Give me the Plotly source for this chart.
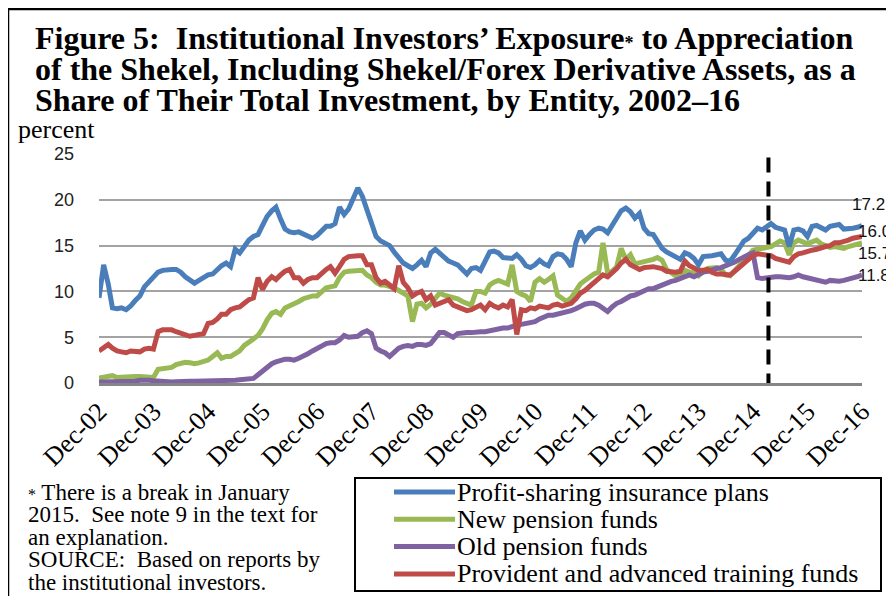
import plotly.graph_objects as go
import pandas as pd

# ---------------- data (monthly, Dec-2002 .. Dec-2016) ----------------
dates = pd.date_range("2002-12-01", periods=169, freq="MS")

series_names = [
    "Profit-sharing insurance plans",
    "New pension funds",
    "Old pension funds",
    "Provident and advanced training funds",
]

profit_sharing = [
    9.3, 12.9, 10.8, 8.2, 8.1, 8.2, 8.0, 8.4, 9.0, 9.5, 10.5, 11.0,
    11.5, 12.1, 12.3, 12.4, 12.4, 12.4, 12.1, 11.6, 11.2, 10.9, 11.2, 11.5,
    11.8, 11.9, 12.4, 12.8, 13.1, 12.7, 14.6, 14.2, 14.9, 15.6, 16.0, 16.2,
    17.2, 18.2, 18.8, 19.2, 17.9, 16.8, 16.5, 16.4, 16.5, 16.3, 16.0, 15.8,
    16.1, 16.6, 17.1, 17.1, 17.4, 19.2, 18.4, 19.0, 20.2, 21.3, 20.4, 18.9,
    17.8, 16.0, 15.5, 15.3, 15.0, 14.3, 13.6, 13.1, 12.8, 12.5, 12.9, 13.4,
    12.7, 14.2, 14.6, 14.2, 13.6, 13.3, 13.1, 12.9, 12.4, 11.9, 12.5, 12.6,
    12.3, 13.3, 14.3, 14.4, 14.2, 13.7, 13.6, 13.6, 14.0, 13.5, 12.8, 12.6,
    12.9, 13.4, 13.0, 12.8, 13.8, 14.1, 14.0, 13.5, 12.7, 15.3, 16.6, 15.6,
    16.2, 16.7, 16.9, 16.8, 16.4, 17.2, 18.0, 18.8, 19.1, 18.7, 18.0, 18.5,
    16.9, 16.3, 16.2, 15.5, 14.7, 14.3, 14.0, 13.8, 13.5, 14.2, 14.0, 13.6,
    12.9, 13.8, 13.8, 13.9, 14.0, 14.1, 13.4, 13.3, 14.0, 14.8, 15.5, 15.8,
    16.4, 16.9, 16.7, 17.0, 17.4, 17.0, 16.8, 16.7, 14.9, 16.7, 16.8, 16.6,
    16.0, 17.1, 17.2, 17.0, 16.7, 17.1, 17.2, 17.3, 16.8, 16.8, 16.9, 17.0,
    17.2,
]

new_pension = [
    0.55, 0.6, 0.7, 0.8, 0.6, 0.65, 0.7, 0.7, 0.7, 0.7, 0.7, 0.65,
    0.6, 1.5, 1.6, 1.6, 1.7, 2.0, 2.1, 2.25, 2.2, 2.1, 2.2, 2.35,
    2.5, 2.9, 3.3, 2.7, 2.9, 2.9, 3.2, 3.5, 4.1, 4.4, 4.8, 5.2,
    5.9, 6.9, 7.6, 7.8, 7.5, 8.2, 8.4, 8.7, 8.9, 9.2, 9.4, 9.5,
    9.5, 10.0, 10.4, 10.5, 10.6, 11.5, 12.1, 12.2, 12.2, 12.2, 12.3, 11.8,
    11.5, 11.0, 10.7, 10.7, 10.6, 10.4, 10.1, 9.8, 9.5, 6.7, 8.6, 8.7,
    8.2, 8.6, 9.3, 9.8, 9.6, 9.5, 9.4, 9.2, 8.9, 8.7, 8.5, 10.0,
    10.0, 9.8, 10.7, 11.0, 11.2, 11.0, 10.8, 12.9, 10.0, 9.7, 9.5, 8.9,
    11.0, 11.4, 11.0, 11.3, 11.7, 9.6, 9.3, 8.9, 9.3, 10.2, 10.8, 11.2,
    11.6, 11.9, 12.1, 15.3, 12.0, 12.2, 12.7, 14.7, 13.5, 14.0, 13.0, 13.1,
    13.2, 13.3, 13.5, 13.7, 13.4, 12.4, 12.0, 11.7, 11.6, 12.3, 12.1, 12.0,
    11.7, 12.2, 12.5, 12.5, 12.6, 12.4, 11.8, 11.7, 12.3, 12.9, 13.5, 14.0,
    14.5, 14.6, 14.7, 14.7, 14.9, 15.2, 15.5, 15.3, 14.0, 15.3, 15.6, 15.4,
    15.2, 15.4, 15.6, 15.2, 15.0, 14.8, 14.9, 14.8, 14.7, 14.9, 15.0, 15.1,
    15.3,
]

old_pension = [
    0.1, 0.1, 0.1, 0.1, 0.1, 0.1, 0.1, 0.15, 0.2, 0.3, 0.35, 0.3,
    0.25, 0.2, 0.15, 0.1, 0.1, 0.15, 0.2, 0.2, 0.2, 0.2, 0.2, 0.2,
    0.2, 0.2, 0.25, 0.25, 0.3, 0.3, 0.3, 0.35, 0.4, 0.45, 0.5, 0.9,
    1.3, 1.7, 2.1, 2.3, 2.5, 2.6, 2.6, 2.5, 2.7, 2.9, 3.2, 3.5,
    3.8, 4.0, 4.3, 4.4, 4.4, 4.7, 5.2, 5.0, 5.1, 5.1, 5.5, 5.7,
    5.4, 3.8, 3.5, 3.3, 2.9, 3.3, 3.8, 4.0, 4.1, 4.0, 4.2, 4.2,
    4.1, 4.3, 5.0, 5.5, 5.5, 5.2, 5.0, 5.4, 5.5, 5.5, 5.5, 5.6,
    5.6, 5.6, 5.7, 5.8, 6.0, 6.0, 6.0, 6.2, 6.3, 6.4, 6.5, 6.5,
    6.7, 7.0, 7.2, 7.4, 7.4, 7.5, 7.6, 7.8, 7.9, 8.1, 8.4, 8.6,
    8.7, 8.7, 8.5, 8.2, 7.8, 8.3, 8.7, 8.9, 9.2, 9.5, 9.6, 9.8,
    10.0, 10.3, 10.3, 10.5, 10.6, 10.9, 11.1, 11.2, 11.4, 11.7, 11.8, 11.6,
    11.9, 12.1, 12.2, 12.4, 12.5, 12.6, 12.8, 12.9, 13.2, 13.5, 13.8, 14.0,
    14.2, 11.5, 11.4, 11.5, 11.5, 11.6, 11.6, 11.5, 11.5, 11.6, 11.8, 11.6,
    11.5, 11.4, 11.3, 11.1, 11.0, 11.2, 11.1, 11.1, 11.2, 11.3, 11.4, 11.6,
    11.8,
]

provident = [
    3.5, 3.8, 4.2, 3.8, 3.5, 3.4, 3.3, 3.5, 3.4, 3.4, 3.7, 3.8,
    3.7, 5.6, 5.8, 5.8, 5.8, 5.6, 5.4, 5.2, 5.1, 5.2, 5.3, 5.4,
    6.5, 6.6, 7.0, 7.5, 7.5, 8.0, 8.2, 8.3, 8.7, 9.1, 9.3, 11.5,
    10.2, 11.1, 11.6, 11.3, 11.8, 12.2, 12.4, 11.5, 11.5, 10.9, 11.3, 11.5,
    11.5, 12.0, 12.4, 12.7, 12.0, 12.7, 13.5, 13.8, 13.9, 13.9, 13.9, 12.9,
    12.9, 11.5, 10.9, 11.1, 10.7, 10.3, 12.8, 11.0, 10.4, 9.5, 9.8, 10.0,
    9.1, 9.5, 8.5, 8.7, 8.9, 9.1, 8.5, 8.3, 8.2, 7.9, 8.0, 8.3,
    8.5, 8.0, 8.7, 8.4, 8.2, 8.5, 8.3, 9.1, 5.3, 8.0, 7.9, 8.2,
    8.1, 8.4, 8.3, 8.2, 8.5, 8.6, 8.4, 8.5, 8.7, 9.2, 9.8, 10.1,
    10.5, 11.0, 11.3, 11.8, 11.6, 12.0, 12.5, 13.1, 13.5, 12.9, 12.7, 12.4,
    12.6, 12.7, 12.7, 12.6, 12.5, 12.2, 12.1, 12.1, 12.2, 13.3, 12.8, 12.5,
    12.3, 12.3, 12.4, 12.1, 11.9, 11.9, 11.9, 11.8, 12.2, 12.6, 13.1, 13.5,
    13.9, 14.1, 14.0, 14.0, 13.9, 13.6, 13.5, 13.3, 13.2, 13.8, 14.1, 14.2,
    14.4, 14.5, 14.6, 14.8, 14.9, 15.0, 15.3, 15.3, 15.4, 15.6, 15.8, 15.9,
    16.0,
]

end_labels = ["17.2", "15.7", "11.8", "16.0"]
break_date = "2015-03-15"
y_ticks = [0, 5, 10, 15, 20, 25]

series_values = [profit_sharing, new_pension, old_pension, provident]
colors = ["#4A7EBB", "#98B954", "#7F62A1", "#BE4B48"]
label_shift = [(-12, 21), (-6, -11), (-6, -1), (-6, 5)]

# ---------------- layout geometry ----------------
# The page adds an 8px body margin, so the figure is 8px smaller and
# every reference-pixel position is shifted by that offset.
O = 8
W, H = 894 - O, 596 - O
L, R, T, B = 99 - O, 862 - O, 154 - O, 383 - O


def px(x):
    return (x - O - L) / (R - L)


def py(y):
    return (B - (y - O)) / (B - T)


SERIF = "Liberation Serif"
SANS = "Liberation Sans"

fig = go.Figure()
draw_order = [1, 2, 3, 0]  # blue on top
for i in draw_order:
    fig.add_trace(go.Scatter(
        x=dates, y=series_values[i], mode="lines", name=series_names[i],
        line=dict(color=colors[i], width=5), showlegend=False,
        hoverinfo="x+y+name",
    ))

annotations = []
shapes = []


def text_line(x, y, text, size, bold=False):
    return dict(
        x=px(x), y=py(y), xref="paper", yref="paper",
        text=f"<b>{text}</b>" if bold else text,
        showarrow=False, xanchor="left", yanchor="middle",
        font=dict(family=SERIF, size=size, color="black"),
    )


# end-of-series value labels
for i in range(4):
    xs, ys = label_shift[i]
    annotations.append(dict(
        x=dates[-1], y=series_values[i][-1], xref="x", yref="y",
        text=end_labels[i], showarrow=False, xanchor="left", yanchor="middle",
        xshift=xs, yshift=ys, font=dict(family=SANS, size=17, color="#111"),
    ))

# break line
shapes.append(dict(
    type="line", xref="x", yref="y", x0=break_date, x1=break_date,
    y0=-0.6, y1=24.8, line=dict(color="black", width=4, dash="15px,9px"),
    layer="above",
))

# outer frame (top & left)
shapes.append(dict(type="line", xref="paper", yref="paper",
                   x0=px(8), x1=px(900), y0=py(9), y1=py(9),
                   line=dict(color="black", width=2.5)))
shapes.append(dict(type="line", xref="paper", yref="paper",
                   x0=px(8), x1=px(8), y0=py(9), y1=py(600),
                   line=dict(color="black", width=2.5)))

# title
title_lines = [
    "Figure 5:  Institutional Investors’ Exposure<span style='font-size:18px'>*</span> to Appreciation",
    "of the Shekel, Including Shekel/Forex Derivative Assets, as a",
    "Share of Their Total Investment, by Entity, 2002–16",
]
for k, t in enumerate(title_lines):
    annotations.append(text_line(33, 38 + 31 * k, t, 32, bold=True))

annotations.append(text_line(16, 129, "percent", 26))

# footnote
foot_lines = [
    "<span style='font-size:16px'>*</span> There is a break in January",
    "2015.  See note 9 in the text for",
    "an explanation.",
    "SOURCE:  Based on reports by",
    "the institutional investors.",
]
for k, t in enumerate(foot_lines):
    annotations.append(text_line(26, 492 + 22.6 * k, t, 23))

# manual legend
shapes.append(dict(type="rect", xref="paper", yref="paper",
                   x0=px(355), x1=px(881), y0=py(478), y1=py(591),
                   line=dict(color="black", width=2), fillcolor="rgba(0,0,0,0)"))
for k, i in enumerate([0, 1, 2, 3]):
    yc = 492 + 27.3 * k
    shapes.append(dict(type="line", xref="paper", yref="paper",
                       x0=px(394), x1=px(455), y0=py(yc), y1=py(yc),
                       line=dict(color=colors[i], width=5)))
    annotations.append(text_line(455, yc, series_names[i], 26))

fig.update_layout(
    width=W, height=H,
    margin=dict(l=L, r=W - R, t=T, b=H - B, pad=0),
    paper_bgcolor="white", plot_bgcolor="white",
    showlegend=False,
    annotations=annotations, shapes=shapes,
    xaxis=dict(
        type="date", range=["2002-12-01", "2016-12-01"],
        tick0="2002-12-01", dtick="M12", tickformat="%b-%y",
        tickangle=-45, showgrid=False, zeroline=False,
        showline=True, linecolor="#858585", linewidth=3, ticks="",
        tickfont=dict(family=SERIF, size=26, color="black"),
    ),
    yaxis=dict(
        range=[0, 25], tickvals=y_ticks, showgrid=True,
        gridcolor="#a3a3a3", gridwidth=2, zeroline=False, showline=False,
        ticks="", ticklabelstandoff=24,
        tickfont=dict(family=SANS, size=18, color="#222"),
    ),
)

fig.write_html("out.html")
